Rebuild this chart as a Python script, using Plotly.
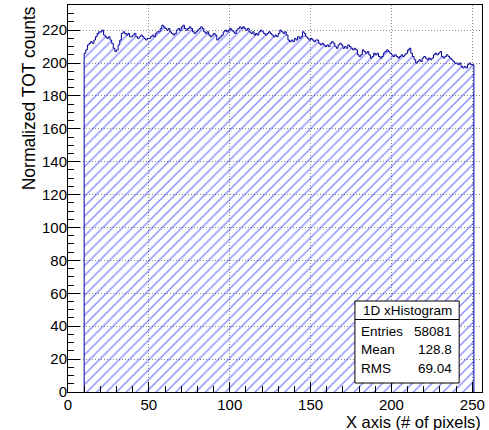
import plotly.graph_objects as go

# Bin edges: unit-width bins starting at x = 10
bin_start = 10
bin_width = 1

# Normalized TOT counts per bin (x = 10 ... 250)
counts = [
    206, 208, 211, 212, 213, 212, 214, 216, 218, 219,
    219, 220, 217, 216, 215, 216, 214, 212, 209, 207,
    208, 211, 214, 218, 219, 218, 217, 218, 216, 216,
    217, 218, 216, 215, 216, 217, 216, 215, 214, 215,
    215, 216, 217, 216, 218, 219, 219, 221, 223, 222,
    221, 220, 221, 219, 218, 217, 218, 220, 221, 220,
    222, 223, 221, 220, 221, 222, 221, 219, 218, 219,
    220, 221, 222, 221, 219, 218, 219, 217, 216, 217,
    218, 217, 214, 215, 216, 217, 219, 220, 219, 220,
    221, 220, 219, 218, 220, 221, 222, 221, 222, 221,
    220, 221, 219, 218, 219, 217, 218, 217, 219, 220,
    219, 218, 217, 218, 219, 218, 217, 216, 217, 216,
    218, 220, 219, 218, 219, 217, 214, 213, 214, 213,
    215, 214, 216, 215, 216, 219, 218, 216, 215, 214,
    215, 214, 213, 214, 214, 212, 211, 212, 211, 210,
    211, 210, 212, 213, 212, 210, 209, 211, 212, 211,
    209, 210, 209, 211, 210, 209, 208, 209, 208, 205,
    204, 205, 208, 207, 206, 207, 205, 203, 204, 206,
    205, 206, 204, 203, 204, 206, 207, 208, 207, 206,
    205, 204, 205, 204, 203, 204, 205, 204, 205, 206,
    208, 209, 206, 204, 202, 200, 201, 202, 201, 203,
    204, 203, 202, 203, 202, 203, 205, 206, 205, 206,
    207, 204, 203, 204, 205, 204, 203, 202, 201, 200,
    200, 199, 200, 198, 197, 198, 197, 199, 200, 199,
    199,
]

# Statistics box contents
stats_title = "1D xHistogram"
stats_labels = ["Entries", "Mean", "RMS"]
stats_values = ["58081", "128.8", "69.04"]

x_title = "X axis (# of pixels)"
y_title = "Normalized TOT counts"

FONT = "Liberation Sans, Arial, Helvetica, sans-serif"

# Build step outline: closed polygon from the axis up through every bin and back down
edges = [bin_start + i * bin_width for i in range(len(counts) + 1)]
xs = [edges[0]]
ys = [0]
for i, c in enumerate(counts):
    xs += [edges[i], edges[i + 1]]
    ys += [c, c]
xs.append(edges[-1])
ys.append(0)

fig = go.Figure()
fig.add_trace(go.Scatter(
    x=xs, y=ys, mode="lines",
    line=dict(color="#000099", width=1),
    fill="tozeroy",
    fillcolor="rgba(0,0,0,0)",
    fillpattern=dict(shape="/", fgcolor="#1f1fff", bgcolor="rgba(0,0,0,0)",
                     size=7, solidity=0.22, fillmode="overlay"),
    hoverinfo="skip",
    showlegend=False,
))

W, H = 489, 430
L, R, T, B = 68, 4, 5, 38
pw, ph = W - L - R, H - T - B


def px_x(p):
    return (p - L) / pw


def px_y(p):
    return (H - B - p) / ph


# Statistics box frame
bx0, bx1, by0, by1, sep = 357, 462, 301, 383, 319.5
fig.add_shape(type="rect", xref="paper", yref="paper",
              x0=px_x(bx0), x1=px_x(bx1), y0=px_y(by1), y1=px_y(by0),
              line=dict(color="black", width=1), fillcolor="white", layer="above")
fig.add_shape(type="line", xref="paper", yref="paper",
              x0=px_x(bx0), x1=px_x(bx1), y0=px_y(sep), y1=px_y(sep),
              line=dict(color="black", width=1), layer="above")
fig.add_annotation(xref="paper", yref="paper", x=px_x((bx0 + bx1) / 2), y=px_y(310),
                   text=stats_title, showarrow=False, xanchor="center", yanchor="middle",
                   font=dict(family=FONT, size=13.5, color="black"))
row_y = [331, 349.5, 368.5]
for lab, val, ry in zip(stats_labels, stats_values, row_y):
    fig.add_annotation(xref="paper", yref="paper", x=px_x(361), y=px_y(ry),
                       text=lab, showarrow=False, xanchor="left", yanchor="middle",
                       font=dict(family=FONT, size=13.5, color="black"))
    fig.add_annotation(xref="paper", yref="paper", x=px_x(457), y=px_y(ry),
                       text=val, showarrow=False, xanchor="right", yanchor="middle",
                       font=dict(family=FONT, size=13.5, color="black"))

# Axis titles (right-aligned on x, top-aligned on y)
fig.add_annotation(xref="paper", yref="paper", x=px_x(485), y=px_y(421.5),
                   text=x_title, showarrow=False, xanchor="right", yanchor="middle",
                   borderpad=0,
                   font=dict(family=FONT, size=16.5, color="black"))
fig.add_annotation(xref="paper", yref="paper", x=px_x(29), y=px_y(4),
                   text=y_title, showarrow=False, textangle=-90,
                   xanchor="center", yanchor="top",
                   font=dict(family=FONT, size=17.5, color="black"))

axis_common = dict(
    showline=True, mirror=True, linecolor="black", linewidth=1,
    ticks="inside", tickcolor="black", tickwidth=1,
    showgrid=True, gridcolor="#8c8c8c", griddash="1px,2px", gridwidth=1,
    zeroline=False,
    tickfont=dict(family=FONT, size=15, color="black"),
)

fig.update_xaxes(range=[0, 256], tick0=0, dtick=50, ticklen=10,
                 minor=dict(dtick=10, tick0=0, ticks="inside", ticklen=6,
                            tickcolor="black", showgrid=False),
                 ticklabelstandoff=-1,
                 **axis_common)
fig.update_yaxes(range=[0, 235.3], tick0=0, dtick=20, ticklen=12,
                 minor=dict(dtick=5, tick0=0, ticks="inside", ticklen=6,
                            tickcolor="black", showgrid=False),
                 ticklabelstandoff=-3,
                 **axis_common)

fig.update_layout(
    width=W, height=H,
    margin=dict(l=L, r=R, t=T, b=B, pad=0),
    paper_bgcolor="white", plot_bgcolor="white",
    font=dict(family=FONT, size=15, color="black"),
    showlegend=False,
)

fig.write_html("out.html")
